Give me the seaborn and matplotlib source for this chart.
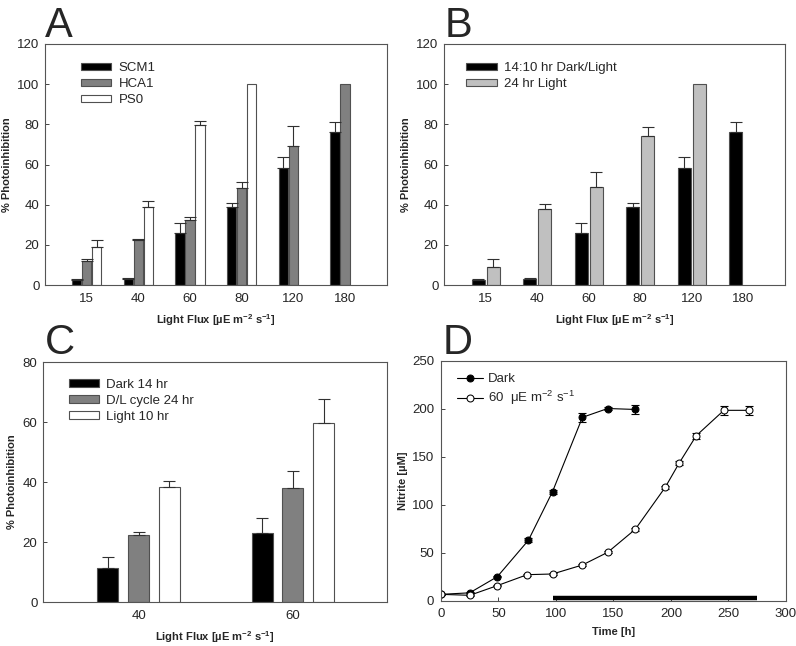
import numpy as np
import pandas as pd
import matplotlib
matplotlib.use("Agg")
import matplotlib.pyplot as plt
import seaborn as sns

sns.set_style("white")
plt.rcParams["font.family"] = ["Liberation Sans", "DejaVu Sans"]
plt.rcParams["mathtext.fontset"] = "custom"
plt.rcParams["mathtext.rm"] = "Liberation Sans"
plt.rcParams["mathtext.default"] = "regular"

# panel A data
flux_a = ["15", "40", "60", "80", "120", "180"]
scm1 = [2.5, 3.0, 25.7, 39.0, 58.2, 76.3]
scm1_err = [0.4, 0.7, 5.0, 2.0, 5.4, 4.8]
hca1 = [12.0, 22.4, 32.4, 48.2, 69.4, 100.0]
hca1_err = [0.9, 0.4, 1.6, 3.1, 9.7, 0.0]
ps0 = [19.1, 39.0, 79.8, 100.0, np.nan, np.nan]
ps0_err = [3.3, 2.9, 2.1, 0.0, 0.0, 0.0]

# panel B data
dl_1410 = [2.5, 3.0, 25.7, 39.0, 58.2, 76.3]
dl_1410_err = [0.4, 0.7, 5.0, 2.0, 5.4, 4.8]
light_24 = [9.1, 37.9, 48.7, 74.3, 100.0, np.nan]
light_24_err = [3.8, 2.4, 7.5, 4.3, 0.0, 0.0]

# panel C data
flux_c = ["40", "60"]
dark_14 = [11.5, 22.9]
dark_14_err = [3.5, 5.0]
dl_24 = [22.2, 38.1]
dl_24_err = [1.3, 5.7]
light_10 = [38.4, 59.7]
light_10_err = [2.1, 7.9]

# panel D data
t_dark = [0, 25, 49, 76, 97, 123, 145, 169]
n_dark = [6.9, 8.5, 25.3, 63.2, 113.9, 191.3, 200.5, 199.5]
e_dark = [0.5, 0.5, 0.8, 2.0, 2.0, 5.0, 1.5, 4.5]
t_light = [0, 25, 49, 75, 97, 123, 145, 169, 195, 207, 222, 246, 268]
n_light = [6.9, 5.9, 16.0, 27.4, 28.1, 37.5, 50.7, 74.7, 118.4, 143.4, 172.2, 198.6, 198.6]
e_light = [0.5, 0.5, 0.8, 1.0, 1.0, 1.0, 1.2, 1.5, 1.5, 2.0, 3.0, 4.5, 4.5]
dark_period = [97, 275]

edge = "#505050"
spine_c = "#555555"
tick_fs = 9.5
lab_fs = 8
leg_fs = 9.5


def to_frame(cats, series):
    rows = []
    for name, (vals, errs) in series.items():
        for c, v, e in zip(cats, vals, errs):
            if not np.isnan(v):
                rows.append({"flux": c, "group": name, "value": v, "err": e})
    return pd.DataFrame(rows)


def bar_panel(ax, cats, series, colors, width, gap, ylim, yticks, legend_anchor):
    df = to_frame(cats, series)
    names = list(series.keys())
    sns.barplot(data=df, x="flux", y="value", hue="group", order=cats,
                hue_order=names, palette=colors, width=width, gap=gap,
                edgecolor=edge, linewidth=0.8, errorbar=None, ax=ax)
    for cont, name in zip(ax.containers, names):
        sub = df[df["group"] == name]
        for bar, (_, row) in zip(cont, sub.iterrows()):
            if row["err"] > 0:
                xc = bar.get_x() + bar.get_width() / 2
                ax.errorbar(xc, row["value"], yerr=[[0], [row["err"]]], fmt="none",
                            ecolor="#303030", elinewidth=0.8, capsize=4, capthick=0.8)
    old = ax.get_legend()
    handles = old.legend_handles
    labels = [t.get_text() for t in old.get_texts()]
    old.remove()
    ax.legend(handles, labels, loc="upper left", bbox_to_anchor=legend_anchor,
              frameon=False, fontsize=leg_fs, handlelength=2.3, handleheight=0.5,
              labelspacing=0.3, handletextpad=0.55, borderpad=0, borderaxespad=0)
    ax.set_ylim(*ylim)
    ax.set_yticks(yticks)
    ax.set_xlabel("Light Flux [µE m$^{-2}$ s$^{-1}$]", fontsize=lab_fs,
                  fontweight="bold", labelpad=5)
    ax.set_ylabel("% Photoinhibition", fontsize=lab_fs, fontweight="bold", labelpad=4)
    ax.tick_params(axis="x", length=0, labelsize=tick_fs, pad=6)
    ax.tick_params(axis="y", direction="in", length=3, width=0.6, labelsize=tick_fs,
                   pad=4, left=True)


fig = plt.figure(figsize=(7.96, 6.46), dpi=100)
ax_a = fig.add_axes([0.0565, 0.5588, 0.4297, 0.3731])
ax_b = fig.add_axes([0.5578, 0.5588, 0.4284, 0.3731])
ax_c = fig.add_axes([0.0540, 0.0681, 0.4322, 0.3715])
ax_d = fig.add_axes([0.5540, 0.0697, 0.4334, 0.3715])

bar_panel(ax_a, flux_a,
          {"SCM1": (scm1, scm1_err), "HCA1": (hca1, hca1_err), "PS0": (ps0, ps0_err)},
          ["#000000", "#808080", "#ffffff"], 0.58, 0.05, (0, 120),
          range(0, 121, 20), (0.105, 0.925))
ax_a.set_xlim(-0.806, 5.81)

bar_panel(ax_b, flux_a,
          {"14:10 hr Dark/Light": (dl_1410, dl_1410_err),
           "24 hr Light": (light_24, light_24_err)},
          ["#000000", "#c0c0c0"], 0.58, 0.13, (0, 120),
          range(0, 121, 20), (0.065, 0.925))
ax_b.set_xlim(-0.806, 5.81)

bar_panel(ax_c, flux_c,
          {"Dark 14 hr": (dark_14, dark_14_err), "D/L cycle 24 hr": (dl_24, dl_24_err),
           "Light 10 hr": (light_10, light_10_err)},
          ["#000000", "#808080", "#ffffff"], 0.6, 0.32, (0, 80),
          range(0, 81, 20), (0.075, 0.93))
ax_c.set_xlim(-0.62, 1.61)

# panel D
sns.lineplot(x=t_dark, y=n_dark, ax=ax_d, color="black", linewidth=0.8, marker="o",
             markersize=5, markerfacecolor="black", markeredgecolor="black",
             label="Dark", sort=False)
sns.lineplot(x=t_light, y=n_light, ax=ax_d, color="black", linewidth=0.8, marker="o",
             markersize=5, markerfacecolor="white", markeredgecolor="black",
             label="60  μE m$^{-2}$ s$^{-1}$", sort=False)
ax_d.errorbar(t_dark, n_dark, yerr=e_dark, fmt="none", ecolor="black",
              elinewidth=0.8, capsize=3, capthick=0.8, zorder=1)
ax_d.errorbar(t_light, n_light, yerr=e_light, fmt="none", ecolor="black",
              elinewidth=0.8, capsize=3, capthick=0.8, zorder=1)
ax_d.plot(dark_period, [2.6, 2.6], color="black", linewidth=3.2,
          solid_capstyle="butt")
ax_d.set_xlim(0, 300)
ax_d.set_ylim(0, 250)
ax_d.set_xticks(range(0, 301, 50))
ax_d.set_yticks(range(0, 251, 50))
ax_d.set_xlabel("Time [h]", fontsize=lab_fs, fontweight="bold", labelpad=5)
ax_d.set_ylabel("Nitrite [µM]", fontsize=lab_fs, fontweight="bold", labelpad=3)
ax_d.tick_params(direction="in", length=3, width=0.6, labelsize=tick_fs, pad=5,
                 left=True, bottom=True)
ax_d.legend(loc="upper left", bbox_to_anchor=(0.045, 0.95), frameon=False,
            fontsize=leg_fs, handlelength=2.0, labelspacing=0.3, handletextpad=0.4,
            borderpad=0, borderaxespad=0)

for ax in (ax_a, ax_b, ax_c, ax_d):
    for sp in ax.spines.values():
        sp.set_visible(True)
        sp.set_color(spine_c)
        sp.set_linewidth(0.8)

for letter, x, y in (("A", 45, 6), ("B", 445, 6), ("C", 45, 323), ("D", 443, 323)):
    fig.text(x / 796, 1 - y / 646, letter, fontsize=30, va="top", ha="left")

fig.savefig("out.png", dpi=100)
